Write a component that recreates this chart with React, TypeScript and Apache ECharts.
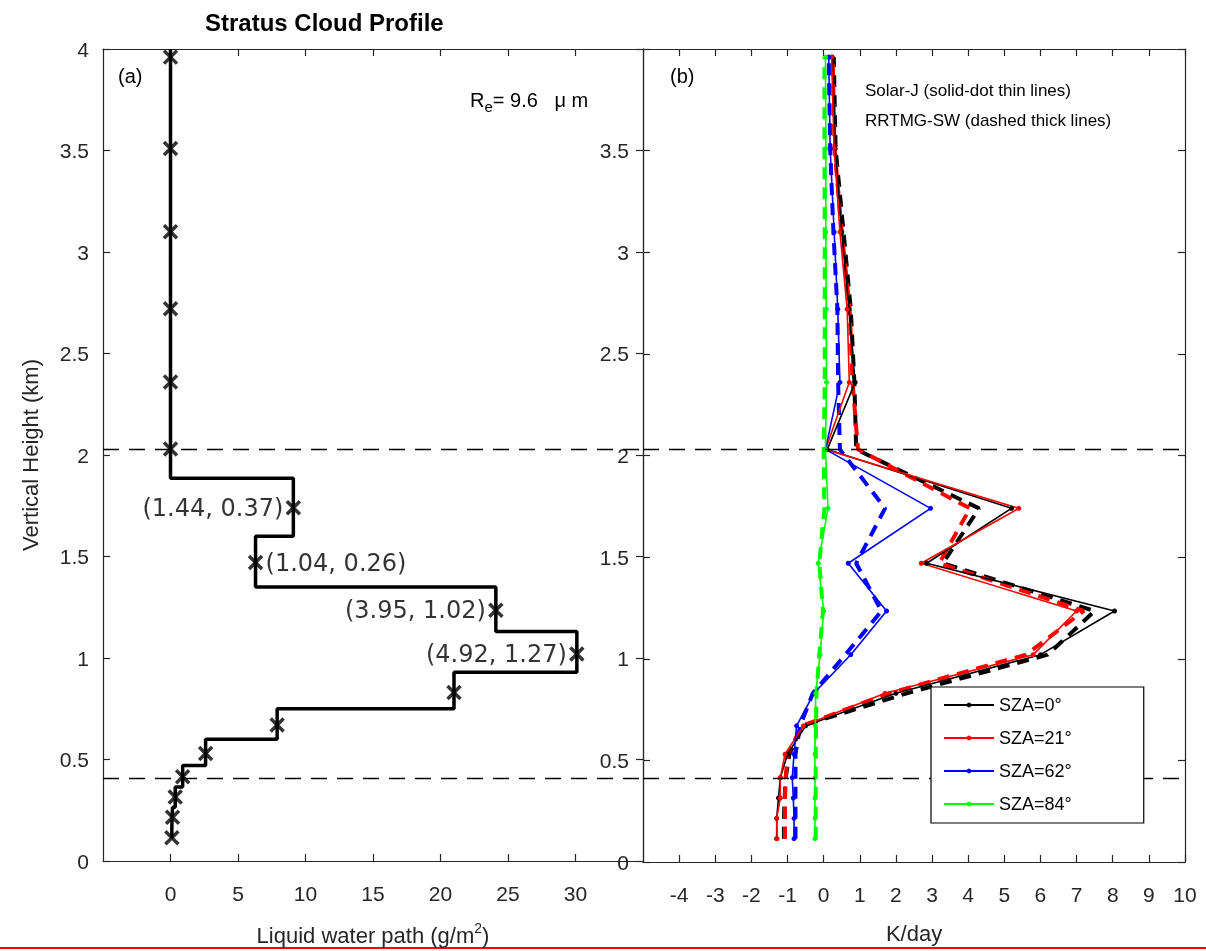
import { useEffect, useRef } from "react";
import * as echarts from "echarts";

// heights (km) of model levels
const levels = [0.115, 0.215, 0.315, 0.415, 0.53, 0.67, 0.83, 1.02, 1.235, 1.47, 1.74, 2.03, 2.36, 2.72, 3.1, 3.51, 3.96];
// layer boundaries for the LWP staircase
const bounds = [0.11, 0.165, 0.265, 0.365, 0.47, 0.6, 0.75, 0.93, 1.13, 1.35, 1.6, 1.885, 2.2, 2.54, 2.91, 3.3, 3.73, 4.0];
const lwp = [0.1, 0.15, 0.35, 0.9, 2.6, 7.9, 21, 30.1, 24.1, 6.3, 9.1, 0, 0, 0, 0, 0, 0];

const lwpLabels = [
  { v: 9.1, h: 1.74, text: "(1.44, 0.37)", side: "left" },
  { v: 6.3, h: 1.47, text: "(1.04, 0.26)", side: "right" },
  { v: 24.1, h: 1.235, text: "(3.95, 1.02)", side: "left" },
  { v: 30.1, h: 1.02, text: "(4.92, 1.27)", side: "left" },
];

const szaNames = ["SZA=0°", "SZA=21°", "SZA=62°", "SZA=84°"];
const szaColors = ["#000000", "#ff0000", "#0000ff", "#00ff00"];
const solarJ = [
  [-1.3, -1.3, -1.25, -1.2, -1.0, -0.5, 2.0, 6.0, 8.05, 2.85, 5.2, 0.1, 0.87, 0.7, 0.5, 0.32, 0.24],
  [-1.29, -1.3, -1.2, -1.2, -1.07, -0.56, 1.7, 5.8, 7.0, 2.7, 5.4, 0.05, 0.71, 0.65, 0.45, 0.29, 0.22],
  [-0.82, -0.82, -0.84, -0.87, -0.82, -0.75, -0.27, 0.75, 1.74, 0.68, 2.96, 0.05, 0.45, 0.39, 0.29, 0.18, 0.14],
  [-0.24, -0.24, -0.24, -0.24, -0.24, -0.23, -0.22, -0.1, 0.0, -0.15, 0.12, 0.05, 0.08, 0.07, 0.06, 0.06, 0.05],
];
const rrtmg = [
  [-1.1, -1.1, -1.08, -1.05, -0.95, -0.6, 2.3, 6.2, 7.5, 3.3, 4.3, 0.9, 0.85, 0.75, 0.55, 0.33, 0.28],
  [-1.07, -1.07, -1.07, -1.05, -1.0, -0.6, 1.8, 5.6, 7.2, 3.2, 4.05, 0.95, 0.8, 0.72, 0.5, 0.3, 0.25],
  [-0.78, -0.78, -0.78, -0.78, -0.78, -0.65, -0.3, 0.6, 1.6, 0.9, 1.7, 0.45, 0.4, 0.38, 0.27, 0.18, 0.14],
  [-0.22, -0.22, -0.22, -0.22, -0.22, -0.21, -0.2, -0.12, -0.02, -0.12, 0.02, 0.0, 0.03, 0.03, 0.03, 0.02, 0.02],
];

const cloudEdges = [2.03, 0.41];
const lwpTicks = [0, 5, 10, 15, 20, 25, 30];
const kTicks = [-4, -3, -2, -1, 0, 1, 2, 3, 4, 5, 6, 7, 8, 9, 10];
const hTicks = [0, 0.5, 1, 1.5, 2, 2.5, 3, 3.5, 4];
const hTicksB = [0, 0.5, 1, 1.5, 2, 2.5, 3, 3.5];

const FONT = "Liberation Sans";
const AX = { color: "#262626", width: 1.2 };

function staircase() {
  const pts: number[][] = [];
  lwp.forEach((v, i) => {
    pts.push([v, bounds[i]]);
    pts.push([v, bounds[i + 1]]);
  });
  return pts;
}

export default function App() {
  const ref = useRef<HTMLDivElement>(null);
  useEffect(() => {
    if (!ref.current) return;
    const chart = echarts.init(ref.current, null, { renderer: "svg" });
    const grids = [
      { left: 103, width: 540, top: 49, height: 813 },
      { left: 643, width: 542, top: 49, height: 813 },
    ];
    const xRange = [
      [-5, 35, lwpTicks],
      [-5, 10, kTicks],
    ] as const;
    const xAxis: any[] = [];
    const yAxis: any[] = [];
    [0, 1].forEach((g) => {
      const [min, max, ticks] = xRange[g];
      ["bottom", "top"].forEach((pos) => {
        xAxis.push({
          type: "value", gridIndex: g, position: pos, min, max,
          axisLine: { show: true, onZero: false, lineStyle: AX },
          axisTick: { show: true, inside: true, length: 7, customValues: ticks as any, lineStyle: AX },
          axisLabel: {
            show: pos === "bottom", customValues: ticks as any, margin: 22,
            fontSize: 21, color: "#262626", fontFamily: FONT,
          },
          splitLine: { show: false },
          name: pos === "bottom" ? (g === 0 ? "Liquid water path (g/m{s|2})" : "K/day") : "",
          nameLocation: "middle", nameGap: 60,
          nameTextStyle: {
            fontSize: 22, color: "#262626", fontFamily: FONT,
            rich: { s: { fontSize: 14, verticalAlign: "top", padding: [0, 0, 14, 0], color: "#262626", fontFamily: FONT } },
          },
        });
      });
      ["left", "right"].forEach((pos) => {
        yAxis.push({
          type: "value", gridIndex: g, position: pos, min: 0, max: 4,
          axisLine: { show: true, onZero: false, lineStyle: AX },
          axisTick: { show: true, inside: true, length: 7, customValues: hTicks, lineStyle: AX },
          axisLabel: {
            show: pos === "left", customValues: g === 0 ? hTicks : hTicksB, margin: 14,
            fontSize: 21, color: "#262626", fontFamily: FONT,
          },
          splitLine: { show: false },
          name: pos === "left" && g === 0 ? "Vertical Height (km)" : "",
          nameLocation: "middle", nameGap: 62,
          nameTextStyle: { fontSize: 22, color: "#262626", fontFamily: FONT },
        });
      });
    });

    const edgeLines = (g: number) => ({
      type: "line", xAxisIndex: g * 2, yAxisIndex: g * 2, data: [], silent: true, z: 1,
      markLine: {
        symbol: "none", silent: true, label: { show: false },
        lineStyle: { color: "#000", type: [16, 10], width: 1.3 },
        data: cloudEdges.map((h) => ({ yAxis: h })),
      },
    });

    const series: any[] = [
      edgeLines(0),
      edgeLines(1),
      {
        type: "line", xAxisIndex: 0, yAxisIndex: 0, data: staircase(), symbol: "none",
        lineStyle: { color: "#000", width: 3.5 },
      },
      {
        type: "scatter", xAxisIndex: 0, yAxisIndex: 0,
        data: lwp.map((v, i) => [v, levels[i]]),
        symbol: "path://M0,0L10,10M10,0L0,10", symbolSize: 13,
        itemStyle: { color: "none", borderColor: "#000", borderWidth: 3.5 },
      },
      {
        type: "scatter", xAxisIndex: 0, yAxisIndex: 0, symbolSize: 0,
        data: lwpLabels.map((l) => ({
          value: [l.v, l.h],
          label: {
            show: true, formatter: l.text, position: l.side, distance: 10,
            fontSize: 24, color: "#000", fontFamily: "DejaVu Sans",
          },
        })),
      },
    ];
    rrtmg.forEach((vals, k) => {
      series.push({
        type: "line", name: szaNames[k] + "_rrtmg", xAxisIndex: 2, yAxisIndex: 2, symbol: "none",
        data: vals.map((v, i) => [v, levels[i]]),
        lineStyle: { color: szaColors[k], width: 4, type: [12, 8] },
        z: 2,
      });
    });
    solarJ.forEach((vals, k) => {
      series.push({
        type: "line", name: szaNames[k], xAxisIndex: 2, yAxisIndex: 2,
        symbol: "circle", symbolSize: 5, showSymbol: true,
        data: vals.map((v, i) => [v, levels[i]]),
        lineStyle: { color: szaColors[k], width: 1.6 },
        itemStyle: { color: szaColors[k] },
        z: 3,
      });
    });

    chart.setOption({
      animation: false,
      grid: grids,
      xAxis,
      yAxis,
      series,
      legend: {
        data: szaNames,
        left: 931, top: 687, orient: "vertical", itemGap: 15, z: 20, zlevel: 1,
        itemWidth: 50, itemHeight: 6,
        padding: [9, 72, 10, 12],
        backgroundColor: "#fff", borderColor: "#000", borderWidth: 1.2,
        textStyle: { fontSize: 18, color: "#000", fontFamily: FONT },
      },
      graphic: [
        { type: "text", left: 205, top: 10, style: { text: "Stratus Cloud Profile", font: `bold 24px ${FONT}`, fill: "#000" } },
        { type: "text", left: 118, top: 66, style: { text: "(a)", font: `20px ${FONT}`, fill: "#000" } },
        { type: "text", left: 670, top: 66, style: { text: "(b)", font: `20px ${FONT}`, fill: "#000" } },
        {
          type: "text", left: 470, top: 90,
          style: {
            text: "R{s|e}= 9.6   μ m", font: `20px ${FONT}`, fill: "#000",
            rich: { s: { fontSize: 15, padding: [12, 0, 0, 0], fontFamily: FONT, fill: "#000" } } as any,
          },
        },
        { type: "text", left: 865, top: 82, style: { text: "Solar-J (solid-dot thin lines)", font: `17px ${FONT}`, fill: "#000" } },
        { type: "text", left: 865, top: 112, style: { text: "RRTMG-SW (dashed thick lines)", font: `17px ${FONT}`, fill: "#000" } },
        { type: "rect", left: 0, top: 947, shape: { width: 1206, height: 2 }, style: { fill: "#ff0000" } },
      ],
    });
    return () => chart.dispose();
  }, []);
  return <div ref={ref} style={{ position: "fixed", left: 0, top: 0, width: 1206, height: 951 }} />;
}
